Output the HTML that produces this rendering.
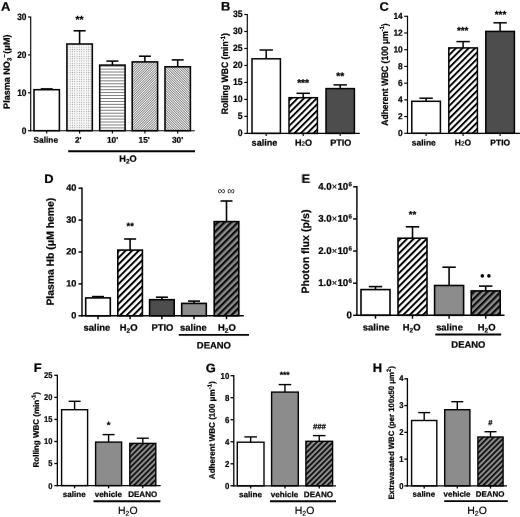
<!DOCTYPE html>
<html lang="en">
<head>
<meta charset="utf-8">
<title>Figure</title>
<style>
html,body{margin:0;padding:0;background:#fff;}
body{width:520px;height:517px;overflow:hidden;font-family:"Liberation Sans",sans-serif;}
svg{display:block;}
text{font-family:"Liberation Sans",sans-serif;stroke:#000;stroke-width:0.24px;stroke-linejoin:round;text-rendering:geometricPrecision;}
</style>
</head>
<body>
<svg width="520" height="517" viewBox="0 0 520 517" font-family="'Liberation Sans', sans-serif" fill="#000">
<rect width="520" height="517" fill="#fff"/>

<defs>
<filter id="soft" x="0" y="0" width="520" height="517" filterUnits="userSpaceOnUse"><feConvolveMatrix order="3" kernelMatrix="0.0004 0.0211 0.0004 0.0211 1 0.0211 0.0004 0.0211 0.0004" edgeMode="none"/></filter>
<filter id="softf" x="0" y="0" width="520" height="517" filterUnits="userSpaceOnUse"><feConvolveMatrix order="3" kernelMatrix="0.0000 0.0039 0.0000 0.0039 1 0.0039 0.0000 0.0039 0.0000" edgeMode="none"/></filter>
<pattern id="pDots" width="2.3" height="2.3" patternUnits="userSpaceOnUse">
  <rect width="2.3" height="2.3" fill="#f8f8f8"/>
  <rect x="0.7" y="0.7" width="0.95" height="0.95" fill="#a0a0a0"/>
</pattern>
<pattern id="pHl" width="4" height="2.94" patternUnits="userSpaceOnUse">
  <rect width="4" height="2.94" fill="#fff"/>
  <rect x="0" y="1.0" width="4" height="0.95" fill="#777"/>
</pattern>
<pattern id="pFineF" width="1.7" height="4" patternUnits="userSpaceOnUse" patternTransform="rotate(45)">
  <rect width="1.7" height="4" fill="#f8f8f8"/>
  <rect x="0" y="0" width="0.62" height="4" fill="#555"/>
</pattern>
<pattern id="pFineB" width="1.7" height="4" patternUnits="userSpaceOnUse" patternTransform="rotate(-45)">
  <rect width="1.7" height="4" fill="#f8f8f8"/>
  <rect x="0" y="0" width="0.62" height="4" fill="#555"/>
</pattern>
<pattern id="pThick" width="4.5" height="4" patternUnits="userSpaceOnUse" patternTransform="rotate(45)">
  <rect width="4.5" height="4" fill="#fff"/>
  <rect x="0" y="0" width="1.95" height="4" fill="#000"/>
</pattern>
<pattern id="pThickD" width="4.65" height="4" patternUnits="userSpaceOnUse" patternTransform="rotate(45)">
  <rect width="4.65" height="4" fill="#fff"/>
  <rect x="0" y="0" width="2.0" height="4" fill="#000"/>
</pattern>
<pattern id="pGreyH" width="4.7" height="4" patternUnits="userSpaceOnUse" patternTransform="rotate(45)">
  <rect width="4.7" height="4" fill="#8c8c8c"/>
  <rect x="0" y="0" width="2.3" height="4" fill="#111"/>
</pattern>
<pattern id="pGreyS" width="3.8" height="4" patternUnits="userSpaceOnUse" patternTransform="rotate(45)">
  <rect width="3.8" height="4" fill="#8c8c8c"/>
  <rect x="0" y="0" width="1.8" height="4" fill="#111"/>
</pattern>
</defs>

<g filter="url(#softf)">
<rect x="34" y="89.7" width="25.4" height="41" fill="#fff"/>
<rect x="66.9" y="44" width="25.4" height="86.7" fill="url(#pDots)"/>
<rect x="99.7" y="65.1" width="25.4" height="65.6" fill="url(#pHl)"/>
<rect x="132.2" y="61.9" width="25.4" height="68.8" fill="url(#pFineF)"/>
<rect x="165" y="66.8" width="25.4" height="63.9" fill="url(#pFineB)"/>
<rect x="252" y="58.8" width="28.4" height="74.6" fill="#fff"/>
<rect x="289" y="97.7" width="28.4" height="35.7" fill="url(#pThick)"/>
<rect x="326" y="88.6" width="28.4" height="44.8" fill="#4d4d4d"/>
<rect x="411.8" y="101.3" width="28.6" height="32" fill="#fff"/>
<rect x="448.8" y="47.9" width="28.6" height="85.4" fill="url(#pThick)"/>
<rect x="485.8" y="31.4" width="28.6" height="101.9" fill="#4d4d4d"/>
<rect x="85.7" y="297.9" width="24.6" height="17.9" fill="#fff"/>
<rect x="117.8" y="250.1" width="24.6" height="65.7" fill="url(#pThickD)"/>
<rect x="149.6" y="299.7" width="24.6" height="16.1" fill="#4d4d4d"/>
<rect x="181.7" y="303.4" width="24.6" height="12.4" fill="#8c8c8c"/>
<rect x="214.2" y="221.6" width="24.6" height="94.2" fill="url(#pGreyH)"/>
<rect x="361" y="289.6" width="29" height="25.7" fill="#fff"/>
<rect x="398" y="238.2" width="29" height="77.1" fill="url(#pThickD)"/>
<rect x="434.6" y="285.5" width="29" height="29.8" fill="#8c8c8c"/>
<rect x="471.2" y="290.9" width="29" height="24.4" fill="url(#pGreyH)"/>
<rect x="61.6" y="409.7" width="26" height="75.9" fill="#fff"/>
<rect x="95.6" y="442.1" width="26" height="43.5" fill="#8c8c8c"/>
<rect x="129.8" y="443.4" width="26" height="42.2" fill="url(#pGreyS)"/>
<rect x="237.3" y="442.2" width="26.7" height="43.6" fill="#fff"/>
<rect x="271.6" y="392.1" width="26.7" height="93.7" fill="#8c8c8c"/>
<rect x="305.9" y="441.3" width="26.7" height="44.5" fill="url(#pGreyS)"/>
<rect x="411.6" y="420.5" width="25.2" height="65.4" fill="#fff"/>
<rect x="444.7" y="409.7" width="25.2" height="76.2" fill="#8c8c8c"/>
<rect x="477.9" y="437" width="25.2" height="48.9" fill="url(#pGreyS)"/>
</g>
<g filter="url(#soft)">
<g>
<text transform="translate(1 10.7) rotate(0.03) scale(1.050 1)" font-size="12.3" font-weight="bold" text-anchor="start">A</text>
<line x1="46.7" y1="88.9" x2="46.7" y2="89.7" stroke="#000" stroke-width="1.55" stroke-linecap="butt"/>
<line x1="40.7" y1="88.9" x2="52.7" y2="88.9" stroke="#000" stroke-width="1.55" stroke-linecap="butt"/>
<rect x="34" y="89.7" width="25.4" height="41" fill="none" stroke="#000" stroke-width="1.55"/>
<line x1="46.7" y1="130.7" x2="46.7" y2="133.4" stroke="#000" stroke-width="1.15" stroke-linecap="butt"/>
<text transform="translate(45.8 142.7) rotate(0.03)" font-size="8.3" font-weight="bold" text-anchor="middle">Saline</text>
<line x1="79.6" y1="30.8" x2="79.6" y2="44" stroke="#000" stroke-width="1.55" stroke-linecap="butt"/>
<line x1="73.6" y1="30.8" x2="85.6" y2="30.8" stroke="#000" stroke-width="1.55" stroke-linecap="butt"/>
<rect x="66.9" y="44" width="25.4" height="86.7" fill="none" stroke="#000" stroke-width="1.55"/>
<line x1="79.6" y1="130.7" x2="79.6" y2="133.4" stroke="#000" stroke-width="1.15" stroke-linecap="butt"/>
<text transform="translate(78.2 142.7) rotate(0.03)" font-size="8.3" font-weight="bold" text-anchor="middle">2'</text>
<text transform="translate(79.5 23) rotate(0.03)" font-size="10.2" font-weight="bold" text-anchor="middle">**</text>
<line x1="112.4" y1="61.1" x2="112.4" y2="65.1" stroke="#000" stroke-width="1.55" stroke-linecap="butt"/>
<line x1="106.4" y1="61.1" x2="118.4" y2="61.1" stroke="#000" stroke-width="1.55" stroke-linecap="butt"/>
<rect x="99.7" y="65.1" width="25.4" height="65.6" fill="none" stroke="#000" stroke-width="1.55"/>
<line x1="112.4" y1="130.7" x2="112.4" y2="133.4" stroke="#000" stroke-width="1.15" stroke-linecap="butt"/>
<text transform="translate(112.6 142.7) rotate(0.03)" font-size="8.3" font-weight="bold" text-anchor="middle">10'</text>
<line x1="144.9" y1="56.2" x2="144.9" y2="61.9" stroke="#000" stroke-width="1.55" stroke-linecap="butt"/>
<line x1="138.9" y1="56.2" x2="150.9" y2="56.2" stroke="#000" stroke-width="1.55" stroke-linecap="butt"/>
<rect x="132.2" y="61.9" width="25.4" height="68.8" fill="none" stroke="#000" stroke-width="1.55"/>
<line x1="144.9" y1="130.7" x2="144.9" y2="133.4" stroke="#000" stroke-width="1.15" stroke-linecap="butt"/>
<text transform="translate(144.2 142.7) rotate(0.03)" font-size="8.3" font-weight="bold" text-anchor="middle">15'</text>
<line x1="177.7" y1="59.9" x2="177.7" y2="66.8" stroke="#000" stroke-width="1.55" stroke-linecap="butt"/>
<line x1="171.7" y1="59.9" x2="183.7" y2="59.9" stroke="#000" stroke-width="1.55" stroke-linecap="butt"/>
<rect x="165" y="66.8" width="25.4" height="63.9" fill="none" stroke="#000" stroke-width="1.55"/>
<line x1="177.7" y1="130.7" x2="177.7" y2="133.4" stroke="#000" stroke-width="1.15" stroke-linecap="butt"/>
<text transform="translate(177.5 142.7) rotate(0.03)" font-size="8.3" font-weight="bold" text-anchor="middle">30'</text>
<line x1="30.7" y1="16.43" x2="30.7" y2="131.27" stroke="#000" stroke-width="1.15" stroke-linecap="butt"/>
<line x1="30.12" y1="130.7" x2="194.8" y2="130.7" stroke="#000" stroke-width="1.15" stroke-linecap="butt"/>
<line x1="28" y1="130.7" x2="30.7" y2="130.7" stroke="#000" stroke-width="1.15" stroke-linecap="butt"/>
<text transform="translate(26.5 133.55) rotate(0.03) scale(0.900 1)" font-size="9.3" font-weight="bold" text-anchor="end">0</text>
<line x1="28" y1="92.8" x2="30.7" y2="92.8" stroke="#000" stroke-width="1.15" stroke-linecap="butt"/>
<text transform="translate(26.5 95.65) rotate(0.03) scale(0.900 1)" font-size="9.3" font-weight="bold" text-anchor="end">10</text>
<line x1="28" y1="54.9" x2="30.7" y2="54.9" stroke="#000" stroke-width="1.15" stroke-linecap="butt"/>
<text transform="translate(26.5 57.75) rotate(0.03) scale(0.900 1)" font-size="9.3" font-weight="bold" text-anchor="end">20</text>
<line x1="28" y1="17" x2="30.7" y2="17" stroke="#000" stroke-width="1.15" stroke-linecap="butt"/>
<text transform="translate(26.5 19.85) rotate(0.03) scale(0.900 1)" font-size="9.3" font-weight="bold" text-anchor="end">30</text>
<text transform="translate(9.75 108.9) rotate(-89.97)" font-size="9.05" font-weight="bold" text-anchor="start">Plasma NO<tspan font-size="6" dy="1.6">3</tspan><tspan font-size="6" dy="-5">&#8722;</tspan><tspan dy="3.4" dx="0.6">(&#956;M)</tspan></text>
<line x1="68.2" y1="151.2" x2="195" y2="151.2" stroke="#000" stroke-width="1.85" stroke-linecap="butt"/>
<text transform="translate(128 161.8) rotate(0.03)" font-size="9.2" font-weight="bold" text-anchor="middle">H<tspan font-size="6.5" dy="1.8">2</tspan><tspan dy="-1.8">O</tspan></text>
</g>
<g>
<text transform="translate(221 10.4) rotate(0.03) scale(1.050 1)" font-size="12.3" font-weight="bold" text-anchor="start">B</text>
<line x1="266.2" y1="50" x2="266.2" y2="58.8" stroke="#000" stroke-width="1.5" stroke-linecap="butt"/>
<line x1="259.5" y1="50" x2="272.9" y2="50" stroke="#000" stroke-width="1.5" stroke-linecap="butt"/>
<rect x="252" y="58.8" width="28.4" height="74.6" fill="none" stroke="#000" stroke-width="1.5"/>
<line x1="266.2" y1="133.4" x2="266.2" y2="136.1" stroke="#000" stroke-width="1.15" stroke-linecap="butt"/>
<text transform="translate(264.5 145.7) rotate(0.03)" font-size="9.1" font-weight="bold" text-anchor="middle">saline</text>
<line x1="303.2" y1="93.3" x2="303.2" y2="97.7" stroke="#000" stroke-width="1.5" stroke-linecap="butt"/>
<line x1="296.5" y1="93.3" x2="309.9" y2="93.3" stroke="#000" stroke-width="1.5" stroke-linecap="butt"/>
<rect x="289" y="97.7" width="28.4" height="35.7" fill="none" stroke="#000" stroke-width="1.5"/>
<line x1="303.2" y1="133.4" x2="303.2" y2="136.1" stroke="#000" stroke-width="1.15" stroke-linecap="butt"/>
<text transform="translate(303.5 145.7) rotate(0.03)" font-size="9.1" font-weight="bold" text-anchor="middle">H<tspan font-size="6.2" font-weight="normal">2</tspan>O</text>
<text transform="translate(303.1 86.2) rotate(0.03)" font-size="10.2" font-weight="bold" text-anchor="middle">***</text>
<line x1="340.2" y1="84.9" x2="340.2" y2="88.6" stroke="#000" stroke-width="1.5" stroke-linecap="butt"/>
<line x1="333.5" y1="84.9" x2="346.9" y2="84.9" stroke="#000" stroke-width="1.5" stroke-linecap="butt"/>
<rect x="326" y="88.6" width="28.4" height="44.8" fill="none" stroke="#000" stroke-width="1.5"/>
<line x1="340.2" y1="133.4" x2="340.2" y2="136.1" stroke="#000" stroke-width="1.15" stroke-linecap="butt"/>
<text transform="translate(340.8 145.7) rotate(0.03)" font-size="9.1" font-weight="bold" text-anchor="middle">PTIO</text>
<text transform="translate(340.3 79.4) rotate(0.03)" font-size="10.2" font-weight="bold" text-anchor="middle">**</text>
<line x1="247.3" y1="13.93" x2="247.3" y2="133.97" stroke="#000" stroke-width="1.15" stroke-linecap="butt"/>
<line x1="246.73" y1="133.4" x2="359.8" y2="133.4" stroke="#000" stroke-width="1.15" stroke-linecap="butt"/>
<line x1="244.3" y1="133.4" x2="247.3" y2="133.4" stroke="#000" stroke-width="1.15" stroke-linecap="butt"/>
<text transform="translate(242.6 136) rotate(0.03) scale(0.930 1)" font-size="9.3" font-weight="bold" text-anchor="end">0</text>
<line x1="244.3" y1="116.41" x2="247.3" y2="116.41" stroke="#000" stroke-width="1.15" stroke-linecap="butt"/>
<text transform="translate(242.6 119.01) rotate(0.03) scale(0.930 1)" font-size="9.3" font-weight="bold" text-anchor="end">5</text>
<line x1="244.3" y1="99.43" x2="247.3" y2="99.43" stroke="#000" stroke-width="1.15" stroke-linecap="butt"/>
<text transform="translate(242.6 102.03) rotate(0.03) scale(0.930 1)" font-size="9.3" font-weight="bold" text-anchor="end">10</text>
<line x1="244.3" y1="82.44" x2="247.3" y2="82.44" stroke="#000" stroke-width="1.15" stroke-linecap="butt"/>
<text transform="translate(242.6 85.04) rotate(0.03) scale(0.930 1)" font-size="9.3" font-weight="bold" text-anchor="end">15</text>
<line x1="244.3" y1="65.46" x2="247.3" y2="65.46" stroke="#000" stroke-width="1.15" stroke-linecap="butt"/>
<text transform="translate(242.6 68.06) rotate(0.03) scale(0.930 1)" font-size="9.3" font-weight="bold" text-anchor="end">20</text>
<line x1="244.3" y1="48.47" x2="247.3" y2="48.47" stroke="#000" stroke-width="1.15" stroke-linecap="butt"/>
<text transform="translate(242.6 51.07) rotate(0.03) scale(0.930 1)" font-size="9.3" font-weight="bold" text-anchor="end">25</text>
<line x1="244.3" y1="31.49" x2="247.3" y2="31.49" stroke="#000" stroke-width="1.15" stroke-linecap="butt"/>
<text transform="translate(242.6 34.09) rotate(0.03) scale(0.930 1)" font-size="9.3" font-weight="bold" text-anchor="end">30</text>
<line x1="244.3" y1="14.5" x2="247.3" y2="14.5" stroke="#000" stroke-width="1.15" stroke-linecap="butt"/>
<text transform="translate(242.6 17.1) rotate(0.03) scale(0.930 1)" font-size="9.3" font-weight="bold" text-anchor="end">35</text>
<text transform="translate(228.1 114.2) rotate(-89.97) scale(0.930 1)" font-size="9.3" font-weight="bold" text-anchor="start">Rolling WBC (min<tspan font-size="6.2" dy="-3.6">-1</tspan><tspan dy="3.6">)</tspan></text>
</g>
<g>
<text transform="translate(379.5 10.8) rotate(0.03) scale(1.050 1)" font-size="12.3" font-weight="bold" text-anchor="start">C</text>
<line x1="426.1" y1="98.2" x2="426.1" y2="101.3" stroke="#000" stroke-width="1.5" stroke-linecap="butt"/>
<line x1="419.4" y1="98.2" x2="432.8" y2="98.2" stroke="#000" stroke-width="1.5" stroke-linecap="butt"/>
<rect x="411.8" y="101.3" width="28.6" height="32" fill="none" stroke="#000" stroke-width="1.5"/>
<line x1="426.1" y1="133.3" x2="426.1" y2="136" stroke="#000" stroke-width="1.15" stroke-linecap="butt"/>
<text transform="translate(423.8 145.6) rotate(0.03)" font-size="8.45" font-weight="bold" text-anchor="middle">saline</text>
<line x1="463.1" y1="41.6" x2="463.1" y2="47.9" stroke="#000" stroke-width="1.5" stroke-linecap="butt"/>
<line x1="456.4" y1="41.6" x2="469.8" y2="41.6" stroke="#000" stroke-width="1.5" stroke-linecap="butt"/>
<rect x="448.8" y="47.9" width="28.6" height="85.4" fill="none" stroke="#000" stroke-width="1.5"/>
<line x1="463.1" y1="133.3" x2="463.1" y2="136" stroke="#000" stroke-width="1.15" stroke-linecap="butt"/>
<text transform="translate(462.9 145.6) rotate(0.03)" font-size="8.45" font-weight="bold" text-anchor="middle">H<tspan font-size="6.2" font-weight="normal">2</tspan>O</text>
<text transform="translate(462.7 33.8) rotate(0.03)" font-size="9.9" font-weight="bold" text-anchor="middle">***</text>
<line x1="500.1" y1="22.8" x2="500.1" y2="31.4" stroke="#000" stroke-width="1.5" stroke-linecap="butt"/>
<line x1="493.4" y1="22.8" x2="506.8" y2="22.8" stroke="#000" stroke-width="1.5" stroke-linecap="butt"/>
<rect x="485.8" y="31.4" width="28.6" height="101.9" fill="none" stroke="#000" stroke-width="1.5"/>
<line x1="500.1" y1="133.3" x2="500.1" y2="136" stroke="#000" stroke-width="1.15" stroke-linecap="butt"/>
<text transform="translate(500.2 145.6) rotate(0.03)" font-size="8.45" font-weight="bold" text-anchor="middle">PTIO</text>
<text transform="translate(500.5 17.7) rotate(0.03)" font-size="9.9" font-weight="bold" text-anchor="middle">***</text>
<line x1="407.5" y1="15.73" x2="407.5" y2="133.88" stroke="#000" stroke-width="1.15" stroke-linecap="butt"/>
<line x1="406.93" y1="133.3" x2="520" y2="133.3" stroke="#000" stroke-width="1.15" stroke-linecap="butt"/>
<line x1="404.2" y1="133.3" x2="407.5" y2="133.3" stroke="#000" stroke-width="1.15" stroke-linecap="butt"/>
<text transform="translate(402.7 136.05) rotate(0.03) scale(0.940 1)" font-size="8.9" font-weight="bold" text-anchor="end">0</text>
<line x1="404.2" y1="116.59" x2="407.5" y2="116.59" stroke="#000" stroke-width="1.15" stroke-linecap="butt"/>
<text transform="translate(402.7 119.34) rotate(0.03) scale(0.940 1)" font-size="8.9" font-weight="bold" text-anchor="end">2</text>
<line x1="404.2" y1="99.87" x2="407.5" y2="99.87" stroke="#000" stroke-width="1.15" stroke-linecap="butt"/>
<text transform="translate(402.7 102.62) rotate(0.03) scale(0.940 1)" font-size="8.9" font-weight="bold" text-anchor="end">4</text>
<line x1="404.2" y1="83.16" x2="407.5" y2="83.16" stroke="#000" stroke-width="1.15" stroke-linecap="butt"/>
<text transform="translate(402.7 85.91) rotate(0.03) scale(0.940 1)" font-size="8.9" font-weight="bold" text-anchor="end">6</text>
<line x1="404.2" y1="66.44" x2="407.5" y2="66.44" stroke="#000" stroke-width="1.15" stroke-linecap="butt"/>
<text transform="translate(402.7 69.19) rotate(0.03) scale(0.940 1)" font-size="8.9" font-weight="bold" text-anchor="end">8</text>
<line x1="404.2" y1="49.73" x2="407.5" y2="49.73" stroke="#000" stroke-width="1.15" stroke-linecap="butt"/>
<text transform="translate(402.7 52.48) rotate(0.03) scale(0.940 1)" font-size="8.9" font-weight="bold" text-anchor="end">10</text>
<line x1="404.2" y1="33.01" x2="407.5" y2="33.01" stroke="#000" stroke-width="1.15" stroke-linecap="butt"/>
<text transform="translate(402.7 35.76) rotate(0.03) scale(0.940 1)" font-size="8.9" font-weight="bold" text-anchor="end">12</text>
<line x1="404.2" y1="16.3" x2="407.5" y2="16.3" stroke="#000" stroke-width="1.15" stroke-linecap="butt"/>
<text transform="translate(402.7 19.05) rotate(0.03) scale(0.940 1)" font-size="8.9" font-weight="bold" text-anchor="end">14</text>
<text transform="translate(388 125.7) rotate(-89.97) scale(0.914 1)" font-size="9.3" font-weight="bold" text-anchor="start">Adherent WBC (100 &#956;m<tspan font-size="6.2" dy="-3.6">-1</tspan><tspan dy="3.6">)</tspan></text>
</g>
<g>
<text transform="translate(44.3 182.9) rotate(0.03) scale(1.050 1)" font-size="12.3" font-weight="bold" text-anchor="start">D</text>
<line x1="98" y1="296.6" x2="98" y2="297.9" stroke="#000" stroke-width="1.6" stroke-linecap="butt"/>
<line x1="92" y1="296.6" x2="104" y2="296.6" stroke="#000" stroke-width="1.6" stroke-linecap="butt"/>
<rect x="85.7" y="297.9" width="24.6" height="17.9" fill="none" stroke="#000" stroke-width="1.6"/>
<line x1="98" y1="315.8" x2="98" y2="319.2" stroke="#000" stroke-width="1.45" stroke-linecap="butt"/>
<text transform="translate(96.9 330.7) rotate(0.03)" font-size="9.45" font-weight="bold" text-anchor="middle">saline</text>
<line x1="130.1" y1="239" x2="130.1" y2="250.1" stroke="#000" stroke-width="1.6" stroke-linecap="butt"/>
<line x1="124.1" y1="239" x2="136.1" y2="239" stroke="#000" stroke-width="1.6" stroke-linecap="butt"/>
<rect x="117.8" y="250.1" width="24.6" height="65.7" fill="none" stroke="#000" stroke-width="1.6"/>
<line x1="130.1" y1="315.8" x2="130.1" y2="319.2" stroke="#000" stroke-width="1.45" stroke-linecap="butt"/>
<text transform="translate(128.7 330.7) rotate(0.03)" font-size="9.45" font-weight="bold" text-anchor="middle">H<tspan font-size="6.6" dy="2">2</tspan><tspan dy="-2">O</tspan></text>
<text transform="translate(130.2 229.3) rotate(0.03)" font-size="9.4" font-weight="bold" text-anchor="middle">**</text>
<line x1="161.9" y1="297.2" x2="161.9" y2="299.7" stroke="#000" stroke-width="1.6" stroke-linecap="butt"/>
<line x1="155.9" y1="297.2" x2="167.9" y2="297.2" stroke="#000" stroke-width="1.6" stroke-linecap="butt"/>
<rect x="149.6" y="299.7" width="24.6" height="16.1" fill="none" stroke="#000" stroke-width="1.6"/>
<line x1="161.9" y1="315.8" x2="161.9" y2="319.2" stroke="#000" stroke-width="1.45" stroke-linecap="butt"/>
<text transform="translate(162.4 330.7) rotate(0.03)" font-size="9.45" font-weight="bold" text-anchor="middle">PTIO</text>
<line x1="194" y1="301.1" x2="194" y2="303.4" stroke="#000" stroke-width="1.6" stroke-linecap="butt"/>
<line x1="188" y1="301.1" x2="200" y2="301.1" stroke="#000" stroke-width="1.6" stroke-linecap="butt"/>
<rect x="181.7" y="303.4" width="24.6" height="12.4" fill="none" stroke="#000" stroke-width="1.6"/>
<line x1="194" y1="315.8" x2="194" y2="319.2" stroke="#000" stroke-width="1.45" stroke-linecap="butt"/>
<text transform="translate(193.4 330.7) rotate(0.03)" font-size="9.45" font-weight="bold" text-anchor="middle">saline</text>
<line x1="226.5" y1="201" x2="226.5" y2="221.6" stroke="#000" stroke-width="1.6" stroke-linecap="butt"/>
<line x1="220.5" y1="201" x2="232.5" y2="201" stroke="#000" stroke-width="1.6" stroke-linecap="butt"/>
<rect x="214.2" y="221.6" width="24.6" height="94.2" fill="none" stroke="#000" stroke-width="1.6"/>
<line x1="226.5" y1="315.8" x2="226.5" y2="319.2" stroke="#000" stroke-width="1.45" stroke-linecap="butt"/>
<text transform="translate(226.8 330.7) rotate(0.03)" font-size="9.45" font-weight="bold" text-anchor="middle">H<tspan font-size="6.6" dy="2">2</tspan><tspan dy="-2">O</tspan></text>
<text transform="translate(226.3 194.2) rotate(0.03)" font-size="10.5" font-weight="bold" text-anchor="middle"><tspan font-weight="normal" stroke-width="0">&#8734;&#8201;&#8734;</tspan></text>
<line x1="82" y1="187.47" x2="82" y2="316.53" stroke="#000" stroke-width="1.45" stroke-linecap="butt"/>
<line x1="81.28" y1="315.8" x2="243.8" y2="315.8" stroke="#000" stroke-width="1.45" stroke-linecap="butt"/>
<line x1="78.5" y1="315.8" x2="82" y2="315.8" stroke="#000" stroke-width="1.45" stroke-linecap="butt"/>
<text transform="translate(76.4 318.4) rotate(0.03)" font-size="9.2" font-weight="bold" text-anchor="end">0</text>
<line x1="78.5" y1="283.9" x2="82" y2="283.9" stroke="#000" stroke-width="1.45" stroke-linecap="butt"/>
<text transform="translate(76.4 286.5) rotate(0.03)" font-size="9.2" font-weight="bold" text-anchor="end">10</text>
<line x1="78.5" y1="252" x2="82" y2="252" stroke="#000" stroke-width="1.45" stroke-linecap="butt"/>
<text transform="translate(76.4 254.6) rotate(0.03)" font-size="9.2" font-weight="bold" text-anchor="end">20</text>
<line x1="78.5" y1="220.1" x2="82" y2="220.1" stroke="#000" stroke-width="1.45" stroke-linecap="butt"/>
<text transform="translate(76.4 222.7) rotate(0.03)" font-size="9.2" font-weight="bold" text-anchor="end">30</text>
<line x1="78.5" y1="188.2" x2="82" y2="188.2" stroke="#000" stroke-width="1.45" stroke-linecap="butt"/>
<text transform="translate(76.4 190.8) rotate(0.03)" font-size="9.2" font-weight="bold" text-anchor="end">40</text>
<text transform="translate(53.8 305.6) rotate(-89.97)" font-size="10.38" font-weight="bold" text-anchor="start">Plasma Hb (&#956;M heme)</text>
<line x1="178.8" y1="334.9" x2="249" y2="334.9" stroke="#000" stroke-width="1.9" stroke-linecap="butt"/>
<text transform="translate(213.9 348.4) rotate(0.03)" font-size="9.45" font-weight="bold" text-anchor="middle">DEANO</text>
</g>
<g>
<text transform="translate(301.6 182.9) rotate(0.03) scale(1.050 1)" font-size="12.3" font-weight="bold" text-anchor="start">E</text>
<line x1="375.5" y1="286.6" x2="375.5" y2="289.6" stroke="#000" stroke-width="1.6" stroke-linecap="butt"/>
<line x1="368.8" y1="286.6" x2="382.2" y2="286.6" stroke="#000" stroke-width="1.6" stroke-linecap="butt"/>
<rect x="361" y="289.6" width="29" height="25.7" fill="none" stroke="#000" stroke-width="1.6"/>
<line x1="375.5" y1="315.3" x2="375.5" y2="318.7" stroke="#000" stroke-width="1.45" stroke-linecap="butt"/>
<text transform="translate(376.2 330.5) rotate(0.03)" font-size="9.45" font-weight="bold" text-anchor="middle">saline</text>
<line x1="412.5" y1="226.8" x2="412.5" y2="238.2" stroke="#000" stroke-width="1.6" stroke-linecap="butt"/>
<line x1="405.8" y1="226.8" x2="419.2" y2="226.8" stroke="#000" stroke-width="1.6" stroke-linecap="butt"/>
<rect x="398" y="238.2" width="29" height="77.1" fill="none" stroke="#000" stroke-width="1.6"/>
<line x1="412.5" y1="315.3" x2="412.5" y2="318.7" stroke="#000" stroke-width="1.45" stroke-linecap="butt"/>
<text transform="translate(411.7 330.5) rotate(0.03)" font-size="9.45" font-weight="bold" text-anchor="middle">H<tspan font-size="6.6" dy="2">2</tspan><tspan dy="-2">O</tspan></text>
<text transform="translate(412.6 217.8) rotate(0.03)" font-size="9.6" font-weight="bold" text-anchor="middle">**</text>
<line x1="449.1" y1="267.2" x2="449.1" y2="285.5" stroke="#000" stroke-width="1.6" stroke-linecap="butt"/>
<line x1="442.4" y1="267.2" x2="455.8" y2="267.2" stroke="#000" stroke-width="1.6" stroke-linecap="butt"/>
<rect x="434.6" y="285.5" width="29" height="29.8" fill="none" stroke="#000" stroke-width="1.6"/>
<line x1="449.1" y1="315.3" x2="449.1" y2="318.7" stroke="#000" stroke-width="1.45" stroke-linecap="butt"/>
<text transform="translate(449.5 330.5) rotate(0.03)" font-size="9.45" font-weight="bold" text-anchor="middle">saline</text>
<line x1="485.7" y1="286.1" x2="485.7" y2="290.9" stroke="#000" stroke-width="1.6" stroke-linecap="butt"/>
<line x1="479" y1="286.1" x2="492.4" y2="286.1" stroke="#000" stroke-width="1.6" stroke-linecap="butt"/>
<rect x="471.2" y="290.9" width="29" height="24.4" fill="none" stroke="#000" stroke-width="1.6"/>
<line x1="485.7" y1="315.3" x2="485.7" y2="318.7" stroke="#000" stroke-width="1.45" stroke-linecap="butt"/>
<text transform="translate(486.6 330.5) rotate(0.03)" font-size="9.45" font-weight="bold" text-anchor="middle">H<tspan font-size="6.6" dy="2">2</tspan><tspan dy="-2">O</tspan></text>
<line x1="356.9" y1="186.08" x2="356.9" y2="316.03" stroke="#000" stroke-width="1.45" stroke-linecap="butt"/>
<line x1="356.17" y1="315.3" x2="504.5" y2="315.3" stroke="#000" stroke-width="1.45" stroke-linecap="butt"/>
<line x1="353.1" y1="315.3" x2="356.9" y2="315.3" stroke="#000" stroke-width="1.45" stroke-linecap="butt"/>
<text transform="translate(352 318.2) rotate(0.03)" font-size="9.7" font-weight="bold" text-anchor="end">0</text>
<line x1="353.1" y1="283.18" x2="356.9" y2="283.18" stroke="#000" stroke-width="1.45" stroke-linecap="butt"/>
<text transform="translate(352 286.07) rotate(0.03)" font-size="9.7" font-weight="bold" text-anchor="end">1.0<tspan font-weight="normal" font-size="9.3" style="stroke-width:0.15px">&#215;</tspan><tspan dx="0.3">10</tspan><tspan font-size="6.2" dy="-3.4" dx="0.4">6</tspan></text>
<line x1="353.1" y1="251.05" x2="356.9" y2="251.05" stroke="#000" stroke-width="1.45" stroke-linecap="butt"/>
<text transform="translate(352 253.95) rotate(0.03)" font-size="9.7" font-weight="bold" text-anchor="end">2.0<tspan font-weight="normal" font-size="9.3" style="stroke-width:0.15px">&#215;</tspan><tspan dx="0.3">10</tspan><tspan font-size="6.2" dy="-3.4" dx="0.4">6</tspan></text>
<line x1="353.1" y1="218.93" x2="356.9" y2="218.93" stroke="#000" stroke-width="1.45" stroke-linecap="butt"/>
<text transform="translate(352 221.83) rotate(0.03)" font-size="9.7" font-weight="bold" text-anchor="end">3.0<tspan font-weight="normal" font-size="9.3" style="stroke-width:0.15px">&#215;</tspan><tspan dx="0.3">10</tspan><tspan font-size="6.2" dy="-3.4" dx="0.4">6</tspan></text>
<line x1="353.1" y1="186.8" x2="356.9" y2="186.8" stroke="#000" stroke-width="1.45" stroke-linecap="butt"/>
<text transform="translate(352 189.7) rotate(0.03)" font-size="9.7" font-weight="bold" text-anchor="end">4.0<tspan font-weight="normal" font-size="9.3" style="stroke-width:0.15px">&#215;</tspan><tspan dx="0.3">10</tspan><tspan font-size="6.2" dy="-3.4" dx="0.4">6</tspan></text>
<text transform="translate(309 293.5) rotate(-89.97)" font-size="10.65" font-weight="bold" text-anchor="start">Photon flux (p/s)</text>
<line x1="435.3" y1="334.5" x2="501.2" y2="334.5" stroke="#000" stroke-width="1.9" stroke-linecap="butt"/>
<text transform="translate(468.4 347.8) rotate(0.03)" font-size="9.45" font-weight="bold" text-anchor="middle">DEANO</text>
</g>
<g>
<text transform="translate(33.8 372.1) rotate(0.03) scale(1.050 1)" font-size="12.3" font-weight="bold" text-anchor="start">F</text>
<line x1="74.6" y1="401.3" x2="74.6" y2="409.7" stroke="#000" stroke-width="1.4" stroke-linecap="butt"/>
<line x1="68.6" y1="401.3" x2="80.6" y2="401.3" stroke="#000" stroke-width="1.4" stroke-linecap="butt"/>
<rect x="61.6" y="409.7" width="26" height="75.9" fill="none" stroke="#000" stroke-width="1.4"/>
<line x1="74.6" y1="485.6" x2="74.6" y2="488.3" stroke="#000" stroke-width="1.3" stroke-linecap="butt"/>
<text transform="translate(74.2 497) rotate(0.03)" font-size="8.05" font-weight="bold" text-anchor="middle">saline</text>
<line x1="108.6" y1="434.6" x2="108.6" y2="442.1" stroke="#000" stroke-width="1.4" stroke-linecap="butt"/>
<line x1="102.6" y1="434.6" x2="114.6" y2="434.6" stroke="#000" stroke-width="1.4" stroke-linecap="butt"/>
<rect x="95.6" y="442.1" width="26" height="43.5" fill="none" stroke="#000" stroke-width="1.4"/>
<line x1="108.6" y1="485.6" x2="108.6" y2="488.3" stroke="#000" stroke-width="1.3" stroke-linecap="butt"/>
<text transform="translate(108.3 497) rotate(0.03)" font-size="8.05" font-weight="bold" text-anchor="middle">vehicle</text>
<text transform="translate(108.5 428.2) rotate(0.03)" font-size="9.5" font-weight="bold" text-anchor="middle">*</text>
<line x1="142.8" y1="438.2" x2="142.8" y2="443.4" stroke="#000" stroke-width="1.4" stroke-linecap="butt"/>
<line x1="136.8" y1="438.2" x2="148.8" y2="438.2" stroke="#000" stroke-width="1.4" stroke-linecap="butt"/>
<rect x="129.8" y="443.4" width="26" height="42.2" fill="none" stroke="#000" stroke-width="1.4"/>
<line x1="142.8" y1="485.6" x2="142.8" y2="488.3" stroke="#000" stroke-width="1.3" stroke-linecap="butt"/>
<text transform="translate(142.7 497) rotate(0.03)" font-size="8.05" font-weight="bold" text-anchor="middle">DEANO</text>
<line x1="57.35" y1="374.65" x2="57.35" y2="486.25" stroke="#000" stroke-width="1.3" stroke-linecap="butt"/>
<line x1="56.7" y1="485.6" x2="160.6" y2="485.6" stroke="#000" stroke-width="1.3" stroke-linecap="butt"/>
<line x1="54.35" y1="485.6" x2="57.35" y2="485.6" stroke="#000" stroke-width="1.3" stroke-linecap="butt"/>
<text transform="translate(52.5 488.55) rotate(0.03) scale(0.900 1)" font-size="8.4" font-weight="bold" text-anchor="end">0</text>
<line x1="54.35" y1="463.54" x2="57.35" y2="463.54" stroke="#000" stroke-width="1.3" stroke-linecap="butt"/>
<text transform="translate(52.5 466.49) rotate(0.03) scale(0.900 1)" font-size="8.4" font-weight="bold" text-anchor="end">5</text>
<line x1="54.35" y1="441.48" x2="57.35" y2="441.48" stroke="#000" stroke-width="1.3" stroke-linecap="butt"/>
<text transform="translate(52.5 444.43) rotate(0.03) scale(0.900 1)" font-size="8.4" font-weight="bold" text-anchor="end">10</text>
<line x1="54.35" y1="419.42" x2="57.35" y2="419.42" stroke="#000" stroke-width="1.3" stroke-linecap="butt"/>
<text transform="translate(52.5 422.37) rotate(0.03) scale(0.900 1)" font-size="8.4" font-weight="bold" text-anchor="end">15</text>
<line x1="54.35" y1="397.36" x2="57.35" y2="397.36" stroke="#000" stroke-width="1.3" stroke-linecap="butt"/>
<text transform="translate(52.5 400.31) rotate(0.03) scale(0.900 1)" font-size="8.4" font-weight="bold" text-anchor="end">20</text>
<line x1="54.35" y1="375.3" x2="57.35" y2="375.3" stroke="#000" stroke-width="1.3" stroke-linecap="butt"/>
<text transform="translate(52.5 378.25) rotate(0.03) scale(0.900 1)" font-size="8.4" font-weight="bold" text-anchor="end">25</text>
<text transform="translate(38.85 467.5) rotate(-89.97)" font-size="8.03" font-weight="bold" text-anchor="start">Rolling WBC (min<tspan font-size="5.8" dy="-3.3">-1</tspan><tspan dy="3.3">)</tspan></text>
<line x1="93.5" y1="501.2" x2="160.4" y2="501.2" stroke="#000" stroke-width="1.85" stroke-linecap="butt"/>
<text transform="translate(127.8 513.9) rotate(0.03)" font-size="10.5" font-weight="normal" text-anchor="middle" style="stroke-width:0.18px">H<tspan font-size="7" dy="1.8">2</tspan><tspan dy="-1.8">O</tspan></text>
</g>
<g>
<text transform="translate(205.8 372.3) rotate(0.03) scale(1.050 1)" font-size="12.3" font-weight="bold" text-anchor="start">G</text>
<line x1="250.65" y1="436.9" x2="250.65" y2="442.2" stroke="#000" stroke-width="1.4" stroke-linecap="butt"/>
<line x1="244.35" y1="436.9" x2="256.95" y2="436.9" stroke="#000" stroke-width="1.4" stroke-linecap="butt"/>
<rect x="237.3" y="442.2" width="26.7" height="43.6" fill="none" stroke="#000" stroke-width="1.4"/>
<line x1="250.65" y1="485.8" x2="250.65" y2="488.5" stroke="#000" stroke-width="1.3" stroke-linecap="butt"/>
<text transform="translate(250.5 497.3) rotate(0.03)" font-size="8.12" font-weight="bold" text-anchor="middle">saline</text>
<line x1="284.95" y1="384.6" x2="284.95" y2="392.1" stroke="#000" stroke-width="1.4" stroke-linecap="butt"/>
<line x1="278.65" y1="384.6" x2="291.25" y2="384.6" stroke="#000" stroke-width="1.4" stroke-linecap="butt"/>
<rect x="271.6" y="392.1" width="26.7" height="93.7" fill="none" stroke="#000" stroke-width="1.4"/>
<line x1="284.95" y1="485.8" x2="284.95" y2="488.5" stroke="#000" stroke-width="1.3" stroke-linecap="butt"/>
<text transform="translate(284.5 497.3) rotate(0.03)" font-size="8.12" font-weight="bold" text-anchor="middle">vehicle</text>
<text transform="translate(284.7 377.8) rotate(0.03)" font-size="8.6" font-weight="bold" text-anchor="middle">***</text>
<line x1="319.25" y1="435.6" x2="319.25" y2="441.3" stroke="#000" stroke-width="1.4" stroke-linecap="butt"/>
<line x1="312.95" y1="435.6" x2="325.55" y2="435.6" stroke="#000" stroke-width="1.4" stroke-linecap="butt"/>
<rect x="305.9" y="441.3" width="26.7" height="44.5" fill="none" stroke="#000" stroke-width="1.4"/>
<line x1="319.25" y1="485.8" x2="319.25" y2="488.5" stroke="#000" stroke-width="1.3" stroke-linecap="butt"/>
<text transform="translate(318.5 497.3) rotate(0.03)" font-size="8.12" font-weight="bold" text-anchor="middle">DEANO</text>
<text transform="translate(319.4 429.2) rotate(0.03)" font-size="7.8" font-weight="bold" text-anchor="middle">###</text>
<line x1="233.8" y1="375.05" x2="233.8" y2="486.45" stroke="#000" stroke-width="1.3" stroke-linecap="butt"/>
<line x1="233.15" y1="485.8" x2="336" y2="485.8" stroke="#000" stroke-width="1.3" stroke-linecap="butt"/>
<line x1="230.5" y1="485.8" x2="233.8" y2="485.8" stroke="#000" stroke-width="1.3" stroke-linecap="butt"/>
<text transform="translate(229.3 488.85) rotate(0.03) scale(0.900 1)" font-size="8.7" font-weight="bold" text-anchor="end">0</text>
<line x1="230.5" y1="463.78" x2="233.8" y2="463.78" stroke="#000" stroke-width="1.3" stroke-linecap="butt"/>
<text transform="translate(229.3 466.83) rotate(0.03) scale(0.900 1)" font-size="8.7" font-weight="bold" text-anchor="end">2</text>
<line x1="230.5" y1="441.76" x2="233.8" y2="441.76" stroke="#000" stroke-width="1.3" stroke-linecap="butt"/>
<text transform="translate(229.3 444.81) rotate(0.03) scale(0.900 1)" font-size="8.7" font-weight="bold" text-anchor="end">4</text>
<line x1="230.5" y1="419.74" x2="233.8" y2="419.74" stroke="#000" stroke-width="1.3" stroke-linecap="butt"/>
<text transform="translate(229.3 422.79) rotate(0.03) scale(0.900 1)" font-size="8.7" font-weight="bold" text-anchor="end">6</text>
<line x1="230.5" y1="397.72" x2="233.8" y2="397.72" stroke="#000" stroke-width="1.3" stroke-linecap="butt"/>
<text transform="translate(229.3 400.77) rotate(0.03) scale(0.900 1)" font-size="8.7" font-weight="bold" text-anchor="end">8</text>
<line x1="230.5" y1="375.7" x2="233.8" y2="375.7" stroke="#000" stroke-width="1.3" stroke-linecap="butt"/>
<text transform="translate(229.3 378.75) rotate(0.03) scale(0.900 1)" font-size="8.7" font-weight="bold" text-anchor="end">10</text>
<text transform="translate(214.7 479.2) rotate(-89.97)" font-size="8.1" font-weight="bold" text-anchor="start">Adherent WBC (100 &#956;m<tspan font-size="5.8" dy="-3.3">-1</tspan><tspan dy="3.3">)</tspan></text>
<line x1="270" y1="501.2" x2="336" y2="501.2" stroke="#000" stroke-width="1.85" stroke-linecap="butt"/>
<text transform="translate(304.5 513.9) rotate(0.03)" font-size="10.5" font-weight="normal" text-anchor="middle" style="stroke-width:0.18px">H<tspan font-size="7" dy="1.8">2</tspan><tspan dy="-1.8">O</tspan></text>
</g>
<g>
<text transform="translate(372.8 372.1) rotate(0.03) scale(1.050 1)" font-size="12.3" font-weight="bold" text-anchor="start">H</text>
<line x1="424.2" y1="412.6" x2="424.2" y2="420.5" stroke="#000" stroke-width="1.4" stroke-linecap="butt"/>
<line x1="418.2" y1="412.6" x2="430.2" y2="412.6" stroke="#000" stroke-width="1.4" stroke-linecap="butt"/>
<rect x="411.6" y="420.5" width="25.2" height="65.4" fill="none" stroke="#000" stroke-width="1.4"/>
<line x1="424.2" y1="485.9" x2="424.2" y2="488.6" stroke="#000" stroke-width="1.3" stroke-linecap="butt"/>
<text transform="translate(423.8 496.8) rotate(0.03)" font-size="7.95" font-weight="bold" text-anchor="middle">saline</text>
<line x1="457.3" y1="401.7" x2="457.3" y2="409.7" stroke="#000" stroke-width="1.4" stroke-linecap="butt"/>
<line x1="451.3" y1="401.7" x2="463.3" y2="401.7" stroke="#000" stroke-width="1.4" stroke-linecap="butt"/>
<rect x="444.7" y="409.7" width="25.2" height="76.2" fill="none" stroke="#000" stroke-width="1.4"/>
<line x1="457.3" y1="485.9" x2="457.3" y2="488.6" stroke="#000" stroke-width="1.3" stroke-linecap="butt"/>
<text transform="translate(457 496.8) rotate(0.03)" font-size="7.95" font-weight="bold" text-anchor="middle">vehicle</text>
<line x1="490.5" y1="431.7" x2="490.5" y2="437" stroke="#000" stroke-width="1.4" stroke-linecap="butt"/>
<line x1="484.5" y1="431.7" x2="496.5" y2="431.7" stroke="#000" stroke-width="1.4" stroke-linecap="butt"/>
<rect x="477.9" y="437" width="25.2" height="48.9" fill="none" stroke="#000" stroke-width="1.4"/>
<line x1="490.5" y1="485.9" x2="490.5" y2="488.6" stroke="#000" stroke-width="1.3" stroke-linecap="butt"/>
<text transform="translate(490.1 496.8) rotate(0.03)" font-size="7.95" font-weight="bold" text-anchor="middle">DEANO</text>
<text transform="translate(490.3 425.2) rotate(0.03)" font-size="7.6" font-weight="bold" text-anchor="middle">#</text>
<line x1="407.4" y1="378.15" x2="407.4" y2="486.55" stroke="#000" stroke-width="1.3" stroke-linecap="butt"/>
<line x1="406.75" y1="485.9" x2="507" y2="485.9" stroke="#000" stroke-width="1.3" stroke-linecap="butt"/>
<line x1="404.3" y1="485.9" x2="407.4" y2="485.9" stroke="#000" stroke-width="1.3" stroke-linecap="butt"/>
<text transform="translate(403.4 488.55) rotate(0.03) scale(0.900 1)" font-size="8.5" font-weight="bold" text-anchor="end">0</text>
<line x1="404.3" y1="459.12" x2="407.4" y2="459.12" stroke="#000" stroke-width="1.3" stroke-linecap="butt"/>
<text transform="translate(403.4 461.77) rotate(0.03) scale(0.900 1)" font-size="8.5" font-weight="bold" text-anchor="end">1</text>
<line x1="404.3" y1="432.35" x2="407.4" y2="432.35" stroke="#000" stroke-width="1.3" stroke-linecap="butt"/>
<text transform="translate(403.4 435) rotate(0.03) scale(0.900 1)" font-size="8.5" font-weight="bold" text-anchor="end">2</text>
<line x1="404.3" y1="405.57" x2="407.4" y2="405.57" stroke="#000" stroke-width="1.3" stroke-linecap="butt"/>
<text transform="translate(403.4 408.22) rotate(0.03) scale(0.900 1)" font-size="8.5" font-weight="bold" text-anchor="end">3</text>
<line x1="404.3" y1="378.8" x2="407.4" y2="378.8" stroke="#000" stroke-width="1.3" stroke-linecap="butt"/>
<text transform="translate(403.4 381.45) rotate(0.03) scale(0.900 1)" font-size="8.5" font-weight="bold" text-anchor="end">4</text>
<text transform="translate(393.9 499.6) rotate(-89.97)" font-size="7.75" font-weight="bold" text-anchor="start">Extravasated WBC (per 100x50 &#956;m<tspan font-size="5.8" dy="-3.3">2</tspan><tspan dy="3.3">)</tspan></text>
<line x1="444.2" y1="501.1" x2="507.8" y2="501.1" stroke="#000" stroke-width="1.85" stroke-linecap="butt"/>
<text transform="translate(477 513.9) rotate(0.03)" font-size="10.5" font-weight="normal" text-anchor="middle" style="stroke-width:0.18px">H<tspan font-size="7" dy="1.8">2</tspan><tspan dy="-1.8">O</tspan></text>
</g>
<circle cx="482.3" cy="275.9" r="1.8" fill="#000"/><circle cx="488.9" cy="275.9" r="1.8" fill="#000"/>
</g>
</svg>
</body>
</html>
